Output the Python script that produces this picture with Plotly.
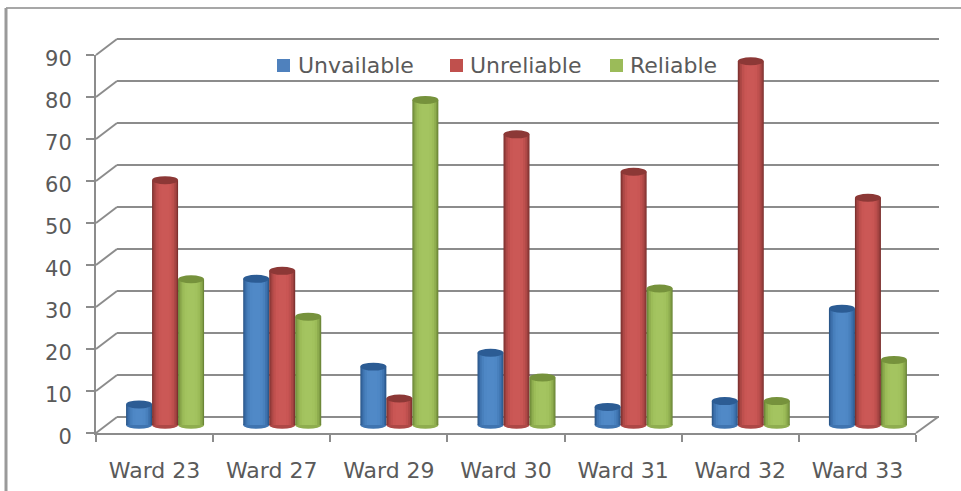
import plotly.graph_objects as go

categories = ["Ward 23", "Ward 27", "Ward 29", "Ward 30", "Ward 31", "Ward 32", "Ward 33"]
unavailable = [4.9, 34.8, 13.9, 17.2, 4.3, 5.7, 27.7]
unreliable = [58.3, 36.7, 6.3, 69.2, 60.3, 86.6, 54.1]
reliable = [34.7, 25.8, 77.4, 11.3, 32.5, 5.7, 15.5]
series_names = ["Unvailable", "Unreliable", "Reliable"]
series_values = [unavailable, unreliable, reliable]
legend_text_px = [296, 468, 628]
legend_swatch_px = [277, 450, 610]

W, H = 961, 491
FONT = "DejaVu Sans"
TXT = "#5a5a5a"
GRID = "#8c8c8c"
shades = [
    ["#2b5789", "#3566a0", "#3f74b0", "#4880bd", "#4e87c5", "#5089c7"],
    ["#7e3230", "#973e3c", "#ad4846", "#bf504e", "#c95654", "#cb5856"],
    ["#6b8637", "#7f9c44", "#8fad4f", "#9cbc58", "#a2c25e", "#a4c460"],
]
caps = ["#2c5c94", "#8c3836", "#76923c"]
base_cols = ["#4f81bd", "#c0504d", "#9bbb59"]
factors = [1.0, 0.92, 0.82, 0.68, 0.5, 0.3]

def xd(px0, px1):
    return [px0 / W, px1 / W]
def yd(py_bottom, py_top):
    return [(H - py_bottom) / H, (H - py_top) / H]

X0, X1, Y0, Y90 = 96, 916, 433, 55
DX_BACK, DY_BACK = 21, 16
DX_BAR, DY_BAR = 10.5, 8
BAR_W = 26 / 117.14
UNIT = (Y0 - Y90) / 90
idx = list(range(len(categories)))

fig = go.Figure()
hidden = dict(x=[0], y=[0], mode="markers", marker=dict(opacity=0), showlegend=False, hoverinfo="skip")
fig.add_trace(go.Scatter(xaxis="x", yaxis="y", **hidden))
fig.add_trace(go.Scatter(xaxis="x2", yaxis="y2", **hidden))

shapes = []
annotations = []
for s, (name, vals) in enumerate(zip(series_names, series_values)):
    xs = [i + (s - 1) * BAR_W for i in idx]
    for f, col in zip(factors, shades[s]):
        fig.add_trace(go.Bar(
            x=xs, y=vals, width=BAR_W * f, name=name, xaxis="x3", yaxis="y3",
            marker=dict(color=col, line_width=0), showlegend=False))
    for x, v in zip(xs, vals):
        shapes.append(dict(type="circle", xref="x3", yref="y3", layer="below",
                           x0=x - BAR_W / 2, x1=x + BAR_W / 2, y0=-0.9, y1=0.9,
                           fillcolor=shades[s][2], line_width=0))
        shapes.append(dict(type="circle", xref="x3", yref="y3", layer="above",
                           x0=x - BAR_W / 2, x1=x + BAR_W / 2, y0=v - 0.95, y1=v + 0.95,
                           fillcolor=caps[s], line_width=0))
    sx = legend_swatch_px[s]
    shapes.append(dict(type="rect", xref="paper", yref="paper", layer="above",
                       x0=sx / W, x1=(sx + 13) / W, y0=1 - 72 / H, y1=1 - 59 / H,
                       fillcolor=base_cols[s], line_width=0))
    annotations.append(dict(text=name, xref="paper", yref="paper", showarrow=False,
                            x=legend_text_px[s] / W, y=1 - 65 / H, xanchor="left", yanchor="middle",
                            font=dict(family=FONT, size=22, color=TXT)))

def pl(x0, y0, x1, y1, col=GRID, w=2):
    return dict(type="line", xref="paper", yref="paper", layer="below",
                x0=x0 / W, x1=x1 / W, y0=1 - y0 / H, y1=1 - y1 / H, line=dict(color=col, width=w))

for k in range(10):
    y = Y0 - k * 10 * UNIT
    shapes.append(pl(X0, y, X0 + DX_BACK, y - DY_BACK))
shapes.append(pl(X1, Y0, X1 + DX_BACK + 1, Y0 - DY_BACK))
shapes.append(pl(6, 8, 961, 8, "#8a8a8a", 1.5))
shapes.append(pl(6, 8, 6, 491, "#9a9a9a", 3))

x_font = dict(family=FONT, size=22, color=TXT)
y_font = dict(family=FONT, size=21, color=TXT)
fig.update_layout(
    width=W, height=H, margin=dict(l=0, r=0, t=0, b=0, autoexpand=False),
    paper_bgcolor="white", plot_bgcolor="rgba(0,0,0,0)",
    barmode="overlay", shapes=shapes, annotations=annotations, showlegend=False,
    font=dict(family=FONT, color=TXT),
    xaxis=dict(domain=xd(X0 + DX_BACK, X1 + DX_BACK + 2), range=[-0.5, 6.5], visible=False, anchor="y"),
    yaxis=dict(domain=yd(Y0 - DY_BACK, Y90 - DY_BACK - 2 * UNIT), range=[0, 92], tickvals=list(range(0, 91, 10)),
               showgrid=True, gridcolor=GRID, gridwidth=2, showticklabels=False, ticks="", zeroline=True,
               zerolinecolor=GRID, zerolinewidth=2, showline=False, anchor="x"),
    xaxis2=dict(domain=xd(X0, X1), range=[-0.5, 6.5], anchor="y2", tickvals=idx, ticktext=categories,
                tickfont=x_font, ticks="", ticklen=0, ticklabelstandoff=17, showline=True,
                linecolor=GRID, linewidth=2, showgrid=False, zeroline=False,
                minor=dict(tick0=-0.5, dtick=1, ticks="outside", ticklen=7, tickcolor=GRID, tickwidth=2, showgrid=False)),
    yaxis2=dict(domain=yd(Y0, Y90), range=[0, 90], dtick=10, anchor="x2", tickfont=y_font,
                ticks="outside", ticklen=8, tickcolor=GRID, tickwidth=2, ticklabelstandoff=10,
                ticklabelshift=4, showline=True, linecolor=GRID, linewidth=2, showgrid=False, zeroline=False),
    xaxis3=dict(domain=xd(X0 + DX_BAR, X1 + DX_BAR), range=[-0.5, 6.5], visible=False, anchor="y3"),
    yaxis3=dict(domain=yd(Y0 - DY_BAR + 2 * UNIT, Y90 - DY_BAR), range=[-2, 90], visible=False, anchor="x3"),
)
fig.write_html("out.html", config=dict(displayModeBar=False), post_script="document.body.style.margin='0';")
